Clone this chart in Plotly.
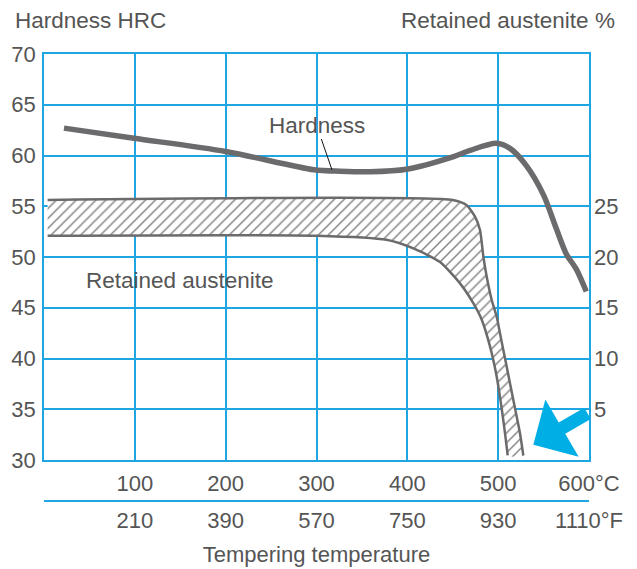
import plotly.graph_objects as go

# ---------------- data ----------------
temp_hardness = [22, 99, 200, 297, 326, 359, 399, 451, 469, 498, 513, 531, 550, 564, 575, 586, 597]
hardness = [62.7, 61.7, 60.4, 58.6, 58.45, 58.4, 58.65, 59.9, 60.5, 61.2, 60.7, 59.0, 56.1, 52.8, 50.3, 48.8, 46.6]

ra_upper_temp = [4, 450, 465, 474.5, 480, 483.7, 487.4, 492.9, 498.4, 502, 509.4, 516.7, 524, 527.7]
ra_upper = [25.62, 25.62, 25.12, 23.97, 22.66, 20.03, 18.06, 15.76, 14.12, 12.48, 9.19, 5.91, 2.63, 0.45]

ra_lower_temp = [4, 300, 377, 408, 436, 458, 472.6, 482, 491, 498, 504, 508, 510.5]
ra_lower = [22.1, 22.1, 21.7, 20.8, 19.5, 17.4, 15.45, 13.8, 11.2, 8.4, 5.0, 2.3, 0.45]

celsius_ticks = [100, 200, 300, 400, 500, 600]
celsius_labels = ["100", "200", "300", "400", "500", "600°C"]
fahrenheit_labels = ["210", "390", "570", "750", "930", "1110°F"]
hrc_ticks = [30, 35, 40, 45, 50, 55, 60, 65, 70]
ra_ticks = [5, 10, 15, 20, 25]

# ---------------- style ----------------
FONT = "Liberation Sans, Arial, Helvetica, sans-serif"
TXT = "#555555"
BLUE = "#1fa6e2"
ARROW_BLUE = "#00aee6"
CURVE = "#6b6b6d"
FS = 22
FS_T = 22.5

fig = go.Figure()

# hatched band (fill only)
fig.add_trace(go.Scatter(
    x=ra_upper_temp + ra_lower_temp[::-1],
    y=ra_upper + ra_lower[::-1],
    yaxis="y2", mode="lines", fill="toself",
    line=dict(width=0, shape="spline", smoothing=0.6),
    fillcolor="white",
    fillpattern=dict(shape="/", fgcolor="#000000", bgcolor="white", size=7, solidity=0.2),
    hoverinfo="skip", showlegend=False))

for xs, ys in [(ra_upper_temp, ra_upper), (ra_lower_temp, ra_lower)]:
    fig.add_trace(go.Scatter(x=xs, y=ys, yaxis="y2", mode="lines",
                             line=dict(color=CURVE, width=2.5, shape="spline", smoothing=0.6),
                             showlegend=False, hoverinfo="skip"))

fig.add_trace(go.Scatter(x=temp_hardness, y=hardness, mode="lines",
                         line=dict(color=CURVE, width=5.5, shape="spline", smoothing=0.8),
                         showlegend=False))

# dummy trace to activate xaxis2
fig.add_trace(go.Scatter(x=[0, 600], y=[None, None], xaxis="x2", showlegend=False, hoverinfo="skip"))

paper_bottom_frac = 0.196
fig.update_layout(
    width=637, height=569,
    margin=dict(l=36, r=56, t=46, b=18),
    paper_bgcolor="white", plot_bgcolor="white",
    font=dict(family=FONT, size=FS, color=TXT),
    showlegend=False,
    xaxis=dict(range=[0, 600], tickvals=celsius_ticks, ticktext=celsius_labels,
               showgrid=True, gridcolor=BLUE, gridwidth=1.5, zeroline=False,
               showline=True, linecolor=BLUE, linewidth=1.5, mirror=True,
               ticks="", ticklabelstandoff=3, automargin=False,
               tickfont=dict(size=FS, color=TXT)),
    xaxis2=dict(range=[0, 600], overlaying="x", anchor="free", position=0.1149, side="bottom",
                tickvals=celsius_ticks, ticktext=fahrenheit_labels,
                showgrid=False, zeroline=False, showline=True, linecolor=BLUE, linewidth=1.5,
                ticks="", ticklabelstandoff=0, automargin=False,
                tickfont=dict(size=FS, color=TXT),
                title=dict(text="Tempering temperature", standoff=13, font=dict(size=FS, color=TXT))),
    yaxis=dict(range=[30, 70], domain=[paper_bottom_frac, 1], tickvals=hrc_ticks,
               showgrid=True, gridcolor=BLUE, gridwidth=1.5, zeroline=False,
               showline=True, linecolor=BLUE, linewidth=1.5, mirror=True,
               ticks="", ticklabelstandoff=2, automargin=False,
               tickfont=dict(size=FS, color=TXT)),
    yaxis2=dict(range=[0, 40], overlaying="y", side="right", tickvals=ra_ticks,
                showgrid=False, zeroline=False, showline=False,
                ticks="", ticklabelstandoff=4, automargin=False,
                tickfont=dict(size=FS, color=TXT)),
)

# axis titles on top
fig.add_annotation(text="Hardness HRC", xref="paper", yref="paper", x=-0.057, y=1.067,
                   xanchor="left", yanchor="middle", showarrow=False,
                   font=dict(size=FS_T, color=TXT))
fig.add_annotation(text="Retained austenite %", xref="paper", yref="paper", x=1.051, y=1.067,
                   xanchor="right", yanchor="middle", showarrow=False,
                   font=dict(size=FS_T, color=TXT))

# curve labels
fig.add_annotation(text="Retained austenite", x=150, y=17.7, xref="x", yref="y2",
                   showarrow=False, font=dict(size=FS_T, color=TXT))
fig.add_annotation(text="Hardness", x=317, y=58.6, ax=300, ay=63.0, axref="x", ayref="y",
                   xref="x", yref="y", showarrow=True, arrowhead=0, arrowwidth=1,
                   arrowcolor="#111111", standoff=0, font=dict(size=FS_T, color=TXT))

# blue arrow
fig.add_annotation(text="", x=538.7, y=31.5, xref="x", yref="y", ax=55.7, ay=-32.3,
                   showarrow=True, arrowhead=1, arrowwidth=13, arrowsize=0.85,
                   arrowcolor=ARROW_BLUE, standoff=0)

fig.write_html("out.html")
